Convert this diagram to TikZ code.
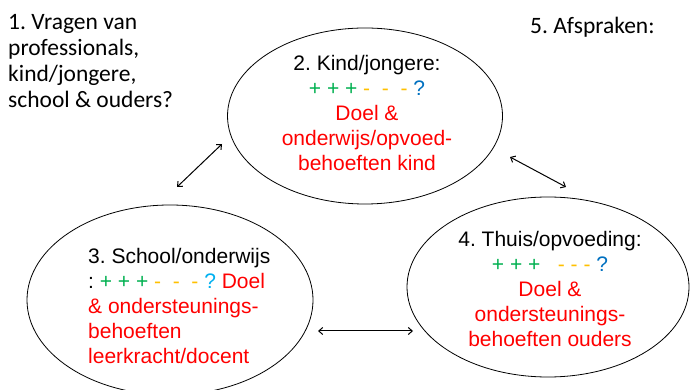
\documentclass[tikz,border=0pt]{standalone}
\usepackage{fontspec}
\setmainfont{Liberation Sans}
\newfontfamily\calibri{Carlito}
\usetikzlibrary{shapes.geometric, arrows.meta}
\frenchspacing

\definecolor{plusgreen}{HTML}{00B050}
\definecolor{minorange}{HTML}{FFC000}
\definecolor{qblue}{HTML}{0070C0}
\definecolor{qlightblue}{HTML}{00B0F0}
\definecolor{goalred}{HTML}{FF0000}

\tikzset{
    partner/.style={ellipse, draw, line width=0.8pt, inner sep=0pt},
    inside/.style={font=\fontsize{21}{25}\selectfont, inner sep=0pt},
    side/.style={font=\calibri\fontsize{23.5}{26}\selectfont, inner sep=0pt, align=left},
    link/.style={<->, >={Straight Barb[length=4pt, width=7pt]}, line width=1pt}
}

\begin{document}
\begin{tikzpicture}[x=1pt, y=1pt]
            \useasboundingbox (0, 0) rectangle (692, 390);

            % Ellipses
            \node[partner, minimum width=275pt, minimum height=176pt] (kind) at (365, 274) {};
            \node[partner, minimum width=286pt, minimum height=190pt] (school) at (170, 90) {};
            \node[partner, minimum width=282pt, minimum height=180pt] (thuis) at (548, 103) {};

            % Texts
            \node[inside, align=center] (kindtext) at (367, 277) {2. Kind/jongere:\\
                \textcolor{plusgreen}{+ + +} \textcolor{minorange}{-\ \ -\ \ -} \textcolor{qblue}{?}\\
                \textcolor{goalred}{Doel \&}\\
                \textcolor{goalred}{onderwijs/opvoed-}\\
                \textcolor{goalred}{behoeften kind}};
            \node[inside, align=left, anchor=west] (schooltext) at (88, 84) {3. School/onderwijs\\
                : \textcolor{plusgreen}{+ + +} \textcolor{minorange}{-\ \ -\ \ -} \textcolor{qlightblue}{?} \textcolor{goalred}{Doel}\\
                \textcolor{goalred}{\& ondersteunings-}\\
                \textcolor{goalred}{behoeften}\\
                \textcolor{goalred}{leerkracht/docent}};
            \node[inside, align=center] (thuistext) at (550, 101) {4. Thuis/opvoeding:\\
                \textcolor{plusgreen}{+ + +}\ \ \ \textcolor{minorange}{- - -} \textcolor{qblue}{?}\\
                \textcolor{goalred}{Doel \&}\\
                \textcolor{goalred}{ondersteunings-}\\
                \textcolor{goalred}{behoeften ouders}};
            \node[side, anchor=west] (vragen) at (8, 329) {1. Vragen van\\professionals,\\kind/jongere,\\school \& ouders?};
            \node[side, anchor=west] (afspraken) at (530, 363) {5. Afspraken:};

            % Arrows
            \coordinate (ks) at (177, 203);
            \coordinate (kk) at (222, 246);
            \coordinate (kt) at (510, 233);
            \coordinate (tk) at (566, 203);
            \coordinate (st) at (318, 59);
            \coordinate (ts) at (413, 59);
            \draw[link] (ks) -- (kk);
            \draw[link] (kt) -- (tk);
            \draw[link] (st) -- (ts);

        \end{tikzpicture}
\end{document}
